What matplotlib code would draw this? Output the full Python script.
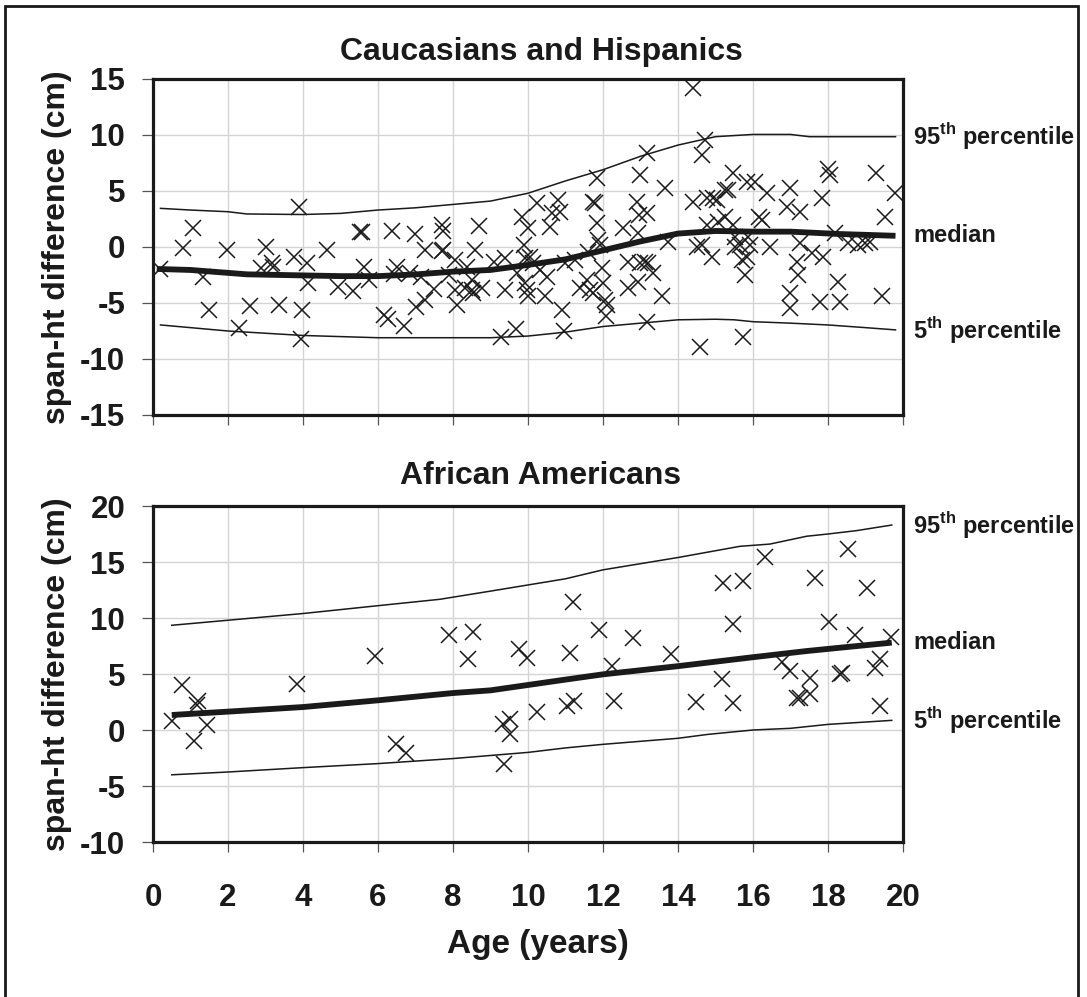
"""Arm span minus height vs age, two panels with percentile curves."""

import matplotlib
matplotlib.use('Agg')
import matplotlib.pyplot as plt
from matplotlib.patches import Rectangle

plt.rcParams['font.family'] = ['Liberation Sans', 'DejaVu Sans']
plt.rcParams['font.weight'] = 'bold'
plt.rcParams['axes.unicode_minus'] = False
plt.rcParams['mathtext.fontset'] = 'custom'
plt.rcParams['mathtext.bf'] = 'Liberation Sans:bold'
plt.rcParams['mathtext.rm'] = 'Liberation Sans:bold'

INK = '#1a1a1a'

# --- Caucasians and Hispanics: individual measurements ---
ch_age = [0.19, 0.81, 1.06, 1.34, 1.48, 1.98, 2.29, 2.59, 2.87, 3.0, 3.16, 3.2, 3.37, 3.77,
          3.88, 3.98, 3.95, 4.1, 4.14, 4.65, 4.94, 5.34, 5.52, 5.56, 5.63, 5.76, 6.16, 6.27,
          6.38, 6.43, 6.5, 6.7, 6.85, 6.99, 7.0, 7.15, 7.25, 7.25, 7.48, 7.7, 7.74, 7.7,
          7.74, 7.88, 8.05, 8.05, 8.1,
          8.32, 8.5, 8.54, 8.77, 8.36, 8.5, 8.59, 8.7, 9.08, 9.39, 9.39, 9.27, 9.68, 9.7,
          9.83, 9.88, 9.92, 9.92, 9.96, 10.0, 10.0, 10.05, 10.14, 10.23, 10.32, 10.45, 10.5,
          10.59, 10.63, 10.81, 10.85, 10.9, 10.96, 10.99, 11.25, 11.39, 11.56, 11.65, 11.74,
          11.6, 11.74, 11.79, 11.83, 11.83, 11.87, 11.92, 11.96, 12.0, 12.05, 12.1, 12.07,
          12.52, 12.67, 12.67, 12.9, 12.94, 12.99, 12.97, 13.17, 12.99, 13.12, 13.2, 12.94,
          13.17, 13.34, 13.17, 13.57, 13.65, 13.74, 14.39, 14.41, 14.5, 14.63, 14.63, 14.72,
          14.59, 14.76, 14.76, 14.94, 14.9, 15.03, 15.07, 15.25, 15.25, 15.34, 15.47, 15.47,
          15.52, 15.52, 15.65, 15.7, 15.79, 15.87, 15.92, 15.74, 16.15,
          15.85, 16.05, 16.36, 16.23, 15.83, 16.45, 16.99, 16.9, 17.25, 17.25, 17.16, 17.2,
          16.99, 16.98, 17.56, 17.87, 17.79, 17.85, 18.0, 18.05, 18.19, 18.27, 18.32, 18.54,
          18.81, 18.99, 19.12, 19.28, 19.43, 19.52, 19.79]
ch_diff = [-1.96, -0.06, 1.73, -2.7, -5.6, -0.27, -7.2, -5.3, -1.9, -0.03, -1.4, -1.8, -5.2, -0.87,
           3.6, -5.6, -8.2, -1.46, -3.2, -0.27, -3.6, -3.9, 1.37, 1.3, -1.75, -2.95, -6.1, -6.4,
           1.43, -2.4, -1.75, -7.05, -2.35, 1.13, -5.4, -2.65, -0.27, -4.7, -3.75, 2.0, 1.43, -0.4,
           -0.27, -2.5, -1.16, -3.84, -5.2,
           -3.7, -3.84, -4.1, -3.7, -1.75, -2.95, -0.27, 1.88, -1.3, -1.0, -3.84, -8.0, -7.35, -2.35,
           2.7, 0.18, -1.0, -3.24, -3.84, -4.4, 1.67, -0.87, -1.46, 3.96, -2.05, -4.4, -2.65,
           1.8, 3.0, 4.2, 3.15, -5.6, -7.5, -1.46, -1.16, -3.7, -2.95, -3.84, -4.13,
           -0.42, 4.05, 3.9, 6.13, 2.1, 0.62, 0.18, -1.9, -3.24, -4.7, -5.2, -6.2,
           1.67, -1.3, -3.7, 4.05, 1.22, 6.43, 2.86, 3.0, -1.46, -1.3, -1.46, -3.1,
           8.36, -2.35, -6.67, -4.4, 5.24, 0.48, 14.17, 4.05, 0.03, 0.18, 8.2, 9.55,
           -8.9, 1.96, 4.35, 4.35, -0.87, 4.2, 2.26, 2.7, 5.1, 5.1, 6.58, 2.0,
           0.9, 0.03, 0.18, -1.16, -2.5, 0.9, 0.18, -8.0, 2.7,
           5.8, 5.8, 4.8, 2.4, -0.87, 0.03, 5.24, 3.6, 3.15, 0.33, -1.3, -2.5,
           -4.13, -5.47, -0.57, -0.87, -4.9, 4.35, 7.0, 6.43, 1.22, -3.1, -4.9, 0.33,
           0.18, 0.33, 0.48, 6.58, -4.4, 2.7, 4.8]

# percentile curves (Caucasians and Hispanics)
ch_p95_age = [0.2, 1, 2, 2.5, 4, 5, 6, 7, 8, 9, 10, 11, 12, 13, 14, 15, 16, 17, 17.5, 19.8]
ch_p95 = [3.45, 3.3, 3.15, 2.95, 2.9, 3.0, 3.3, 3.5, 3.8, 4.1, 4.8, 5.9, 6.9, 8.1, 9.1, 9.85,
          10.05, 10.05, 9.85, 9.85]
ch_med_age = [0.1, 1, 2.5, 5, 6, 7, 8, 9, 10, 11, 12, 13, 14, 15, 16, 17, 18.3, 19.8]
ch_med = [-1.96, -2.05, -2.44, -2.6, -2.6, -2.45, -2.2, -2.05, -1.6, -1.1, -0.3, 0.5, 1.2,
          1.43, 1.37, 1.37, 1.16, 1.0]
ch_p5_age = [0.2, 2, 4, 6, 8, 9, 10, 11, 12, 13, 14, 15, 15.5, 16, 17, 18, 19, 19.8]
ch_p5 = [-6.96, -7.5, -7.9, -8.1, -8.1, -8.1, -7.95, -7.6, -7.1, -6.8, -6.5, -6.45, -6.5,
         -6.67, -6.8, -6.96, -7.2, -7.4]

# --- African Americans: individual measurements ---
aa_age = [0.76, 1.21, 1.17, 0.51, 1.43, 1.1, 3.83, 5.92, 6.47, 6.74, 7.9, 8.52, 8.41, 9.34,
          9.52, 9.52, 9.36, 9.77, 9.98, 10.25, 11.21, 11.12, 11.03, 11.23, 11.9, 12.23, 12.28,
          12.81, 13.8, 14.47, 15.2, 15.74, 15.46, 15.17, 15.46, 16.32, 17.65, 18.54, 19.03,
          18.03, 18.72, 19.68, 16.76, 16.99, 17.52, 17.16, 17.25, 17.52, 18.36, 18.32, 19.25,
          19.39, 19.39]
aa_diff = [3.99, 2.59, 2.2, 0.8, 0.42, -0.98, 4.13, 6.6, -1.28, -2.02, 8.48, 8.75, 6.3, 0.51,
           0.96, -0.38, -3.0, 7.2, 6.46, 1.6, 11.46, 6.85, 2.14, 2.6, 8.9, 5.7, 2.6,
           8.19, 6.75, 2.53, 13.15, 13.3, 9.5, 4.58, 2.44, 15.45, 13.6, 16.2, 12.7,
           9.64, 8.45, 8.33, 6.07, 5.27, 4.67, 2.89, 2.89, 3.19, 5.12, 4.97, 5.56,
           6.31, 2.14]

aa_p95_age = [0.5, 2, 4, 6, 7.65, 9, 11, 12, 14, 15.65, 16.45, 17.43, 18, 18.76, 19.7]
aa_p95 = [9.35, 9.8, 10.4, 11.1, 11.67, 12.4, 13.5, 14.3, 15.4, 16.4, 16.6, 17.3, 17.5, 17.8, 18.3]
aa_med_age = [0.5, 2, 4, 6, 8, 9, 11, 12, 14, 16, 17.43, 18.6, 19.7]
aa_med = [1.34, 1.64, 2.05, 2.65, 3.3, 3.54, 4.5, 4.97, 5.7, 6.5, 7.05, 7.44, 7.8]
aa_p5_age = [0.5, 2, 4, 6, 8, 10, 11, 12, 14, 14.8, 16, 17, 18, 19.7]
aa_p5 = [-4.0, -3.75, -3.36, -3.0, -2.55, -2.0, -1.6, -1.28, -0.74, -0.39, 0.0, 0.15, 0.5, 0.86]

x_ticks = list(range(0, 21, 2))
ch_yticks = list(range(-15, 16, 5))
aa_yticks = list(range(-10, 21, 5))
curve_labels = [r'95$^{\mathbf{th}}$ percentile', 'median', r'5$^{\mathbf{th}}$ percentile']

W, H = 1087, 997
fig = plt.figure(figsize=(W / 100, H / 100), dpi=100)
fig.patch.set_facecolor('white')

# outer frame (bottom edge runs off the picture)
fig.patches.append(Rectangle((5 / W, -0.02), 1073 / W, 1.02 - 6 / H, transform=fig.transFigure,
                             fill=False, edgecolor=INK, linewidth=2, clip_on=False))

ax_top = fig.add_axes([153 / W, (H - 415) / H, 750 / W, 336 / H])
ax_bot = fig.add_axes([153 / W, (H - 842) / H, 750 / W, 336 / H])

panels = [
    (ax_top, ch_age, ch_diff, (ch_p95_age, ch_p95), (ch_med_age, ch_med), (ch_p5_age, ch_p5),
     ch_yticks, 'Caucasians and Hispanics', 52),
    (ax_bot, aa_age, aa_diff, (aa_p95_age, aa_p95), (aa_med_age, aa_med), (aa_p5_age, aa_p5),
     aa_yticks, 'African Americans', 476),
]

for ax, xs, ys, p95, med, p5, yt, title, title_y in panels:
    ax.plot(p95[0], p95[1], color=INK, linewidth=1.1, zorder=3)
    ax.plot(p5[0], p5[1], color=INK, linewidth=1.1, zorder=3)
    ax.plot(med[0], med[1], color=INK, linewidth=4.2, solid_capstyle='butt', zorder=3)
    ax.plot(xs, ys, linestyle='none', marker='x', markersize=11, markeredgewidth=1.1,
            color=INK, zorder=4)

    ax.set_xlim(0, 20)
    ax.set_ylim(yt[0], yt[-1])
    ax.set_xticks(x_ticks)
    ax.set_yticks(yt)
    ax.grid(True, color='#d4d4d4', linewidth=1)
    ax.set_axisbelow(True)
    for sp in ax.spines.values():
        sp.set_linewidth(2.3)
        sp.set_color(INK)
    ax.tick_params(axis='y', direction='out', length=8, width=0.9, color='#555555',
                   labelsize=22.5, pad=12, labelcolor=INK)
    ax.tick_params(axis='x', direction='out', length=7.5, width=0.9, color='#555555',
                   labelsize=22.5, pad=22, labelcolor=INK)

    # curve names at the right end of each curve
    for (cx, cy), lab in zip([p95, med, p5], curve_labels):
        ax.text(20.27, cy[-1], lab, fontsize=17, fontweight='bold', color=INK,
                ha='left', va='center', clip_on=False)

    fig.text(541 / W, 1 - title_y / H, title, fontsize=23, fontweight='bold', color=INK,
             ha='center', va='center')
    yc = (ax.get_position().y0 + ax.get_position().y1) / 2
    fig.text(57 / W, yc, 'span-ht difference (cm)', rotation=90, fontsize=23, fontweight='bold',
             color=INK, ha='center', va='center')

ax_top.tick_params(axis='x', labelbottom=False)
fig.text(538 / W, 1 - 944 / H, 'Age (years)', fontsize=24, fontweight='bold', color=INK,
         ha='center', va='center')

fig.savefig('out.png', dpi=100, facecolor='white')
plt.close(fig)
